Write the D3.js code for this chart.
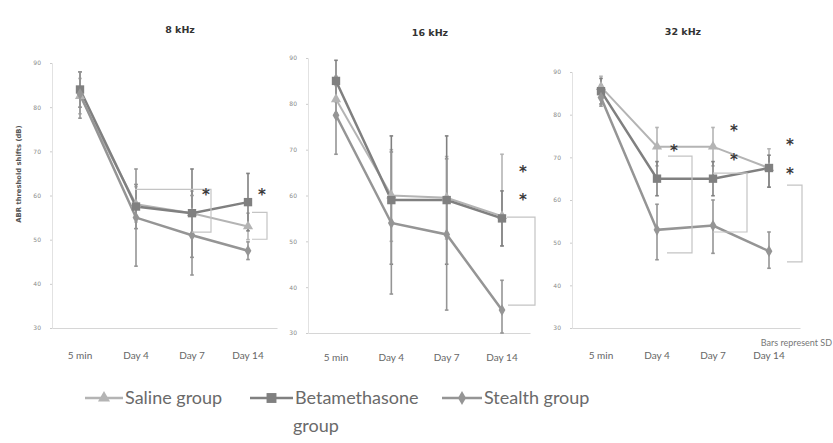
<!DOCTYPE html>
<html><head><meta charset="utf-8">
<script src="https://cdn.jsdelivr.net/npm/d3@7/dist/d3.min.js"></script>
<style>body{margin:0;background:#fff}svg{display:block}</style>
</head><body>
<svg id="c" width="833" height="443"></svg>
<script>
// ---------- DATA ----------
const categories = ["5 min", "Day 4", "Day 7", "Day 14"];
const panelTitles = ["8 kHz", "16 kHz", "32 kHz"];
const yTicks = [30, 40, 50, 60, 70, 80, 90];
const seriesNames = ["Saline group", "Betamethasone group", "Stealth group"];

// 8 kHz
const saline8 = [82.5, 58, 56, 53];
const saline8Plus = [4, 4, 5, 3];
const saline8Minus = [4, 4, 5, 3];
const beta8 = [84, 57.5, 56, 58.5];
const beta8Plus = [4, 5, 10, 6.5];
const beta8Minus = [4, 5, 10, 6.5];
const stealth8 = [83, 55, 51, 47.5];
const stealth8Plus = [5, 11, 9, 2];
const stealth8Minus = [5.5, 11, 9, 2];

// 16 kHz
const saline16 = [81, 60, 59.5, 55.5];
const saline16Plus = [3, 10, 9, 13.5];
const saline16Minus = [3, 10, 9, 6.5];
const beta16 = [85, 59, 59, 55];
const beta16Plus = [4.5, 14, 14, 6];
const beta16Minus = [4.5, 14, 14, 6];
const stealth16 = [77.5, 54, 51.5, 35];
const stealth16Plus = [8.5, 15.5, 16.5, 6.5];
const stealth16Minus = [8.5, 15.5, 16.5, 5];

// 32 kHz
const saline32 = [86.5, 72.5, 72.5, 67.5];
const saline32Plus = [2.5, 4.5, 4.5, 4.5];
const saline32Minus = [2.5, 4.5, 4.5, 4.5];
const beta32 = [85.5, 65, 65, 67.5];
const beta32Plus = [3, 4, 4, 3];
const beta32Minus = [3, 4, 4, 4.5];
const stealth32 = [84, 53, 54, 48];
const stealth32Plus = [3, 6, 6, 4.5];
const stealth32Minus = [2, 7, 6.5, 4];

// significance brackets: [panel, category, top dB, bottom dB]
const bracketPanel = [0, 0, 1, 2, 2, 2];
const bracketCat = ["Day 7", "Day 14", "Day 14", "Day 4", "Day 7", "Day 14"];
const bracketTop = [61.4, 56.2, 55.3, 70.3, 66.3, 63.5];
const bracketBottom = [51.7, 50.1, 36.1, 47.6, 52.5, 45.5];

// asterisks: [panel, category, dB]
const starPanel = [0, 0, 1, 1, 2, 2, 2, 2, 2];
const starCat = ["Day 7", "Day 14", "Day 14", "Day 14", "Day 4", "Day 7", "Day 7", "Day 14", "Day 14"];
const starValue = [60.5, 60.5, 65.6, 59.5, 72, 76.6, 69.8, 73.3, 66.5];

// ---------- LAYOUT / STYLE ----------
const panels = [
  {x0: 52, x1: 277, p0: 80, p1: 248, y30: 328, y90: 63, titleX: 180, titleY: 33, labY: 359},
  {x0: 308, x1: 530, p0: 336, p1: 502, y30: 333, y90: 58, titleX: 430, titleY: 36, labY: 361},
  {x0: 572, x1: 800, p0: 601, p1: 769, y30: 328, y90: 72, titleX: 683, titleY: 35, labY: 359}
];
// bracket horizontal geometry (px offsets from category point)
const bracketTopStart = [-57, 4, 5, 11, 0, 18];
const bracketBotStart = [0, 4, 6, 10, 0, 18];
const bracketVert = [19, 19, 33, 35, 34, 33];
const starDx = [14, 14, 21, 21, 17, 21, 21, 21, 21];

const colors = ["#b4b4b4", "#808080", "#959595"];
const symbols = [d3.symbolTriangle, d3.symbolSquare, d3.symbolDiamond];
const symSizes = [45, 70, 40];

const panelData = [
  [[saline8, saline8Plus, saline8Minus], [beta8, beta8Plus, beta8Minus], [stealth8, stealth8Plus, stealth8Minus]],
  [[saline16, saline16Plus, saline16Minus], [beta16, beta16Plus, beta16Minus], [stealth16, stealth16Plus, stealth16Minus]],
  [[saline32, saline32Plus, saline32Minus], [beta32, beta32Plus, beta32Minus], [stealth32, stealth32Plus, stealth32Minus]]
];

const svg = d3.select("#c");
svg.append("rect").attr("width", 833).attr("height", 443).attr("fill", "#fff");

const scales = panels.map(p => ({
  x: d3.scalePoint().domain(categories).range([p.p0, p.p1]),
  y: d3.scaleLinear().domain([30, 90]).range([p.y30, p.y90])
}));

panels.forEach((p, pi) => {
  const {x, y} = scales[pi];
  const g = svg.append("g");

  // title
  g.append("text").attr("x", p.titleX).attr("y", p.titleY).attr("text-anchor", "middle")
    .attr("font-family", "DejaVu Sans").attr("font-weight", "bold").attr("font-size", 9.5)
    .attr("fill", "#333").text(panelTitles[pi]);

  // y axis
  const yAxis = d3.axisLeft(y).tickValues(yTicks).tickSize(2).tickPadding(9);
  const ya = g.append("g").attr("transform", `translate(${p.x0},0)`).call(yAxis);
  ya.select(".domain").attr("stroke", "#e2e2e2");
  ya.selectAll(".tick line").attr("stroke", "#ccc");
  ya.selectAll("text").attr("font-family", "DejaVu Sans").attr("font-size", 6).attr("fill", "#8a8a8a");

  // x axis baseline
  const xa = g.append("g").attr("transform", `translate(0,${p.y30})`)
    .call(d3.axisBottom(d3.scaleLinear().range([p.x0, p.x1])).ticks(0).tickSizeOuter(0));
  xa.select(".domain").attr("stroke", "#d6d6d6").attr("stroke-width", 1.2);

  // x labels
  g.selectAll(".xl").data(categories).join("text")
    .attr("x", d => x(d)).attr("y", p.labY).attr("text-anchor", "middle")
    .attr("font-family", "Lato").attr("font-size", 10).attr("fill", "#666").text(d => d);

  // series
  panelData[pi].forEach((s, si) => {
    const [vals, plus, minus] = s;
    // error bars
    categories.forEach((c, i) => {
      g.append("line").attr("x1", x(c)).attr("x2", x(c))
        .attr("y1", y(vals[i] + plus[i])).attr("y2", y(vals[i] - minus[i]))
        .attr("stroke", colors[si]).attr("stroke-width", 1.6);
      [vals[i] + plus[i], vals[i] - minus[i]].forEach(v => {
        g.append("line").attr("x1", x(c) - 1.8).attr("x2", x(c) + 1.8)
          .attr("y1", y(v)).attr("y2", y(v)).attr("stroke", colors[si]).attr("stroke-width", 1.6);
      });
    });
  });
  panelData[pi].forEach((s, si) => {
    const vals = s[0];
    g.append("path").datum(vals)
      .attr("d", d3.line().x((d, i) => x(categories[i])).y(d => y(d)))
      .attr("fill", "none").attr("stroke", colors[si]).attr("stroke-width", si === 0 ? 2 : 2.5);
  });
  panelData[pi].forEach((s, si) => {
    const vals = s[0];
    g.selectAll(".m" + si).data(vals).join("path")
      .attr("transform", (d, i) => `translate(${x(categories[i])},${y(d)})`)
      .attr("d", d3.symbol().type(symbols[si]).size(symSizes[si]))
      .attr("fill", colors[si]);
  });
});

// brackets
bracketPanel.forEach((pi, k) => {
  const {x, y} = scales[pi];
  const cx = x(bracketCat[k]);
  const vx = cx + bracketVert[k];
  const path = d3.path();
  path.moveTo(cx + bracketTopStart[k], y(bracketTop[k]));
  path.lineTo(vx, y(bracketTop[k]));
  path.lineTo(vx, y(bracketBottom[k]));
  path.lineTo(cx + bracketBotStart[k], y(bracketBottom[k]));
  svg.append("path").attr("d", path.toString()).attr("fill", "none")
    .attr("stroke", "#c4c4c4").attr("stroke-width", 1.2);
});

// asterisks
starPanel.forEach((pi, k) => {
  const {x, y} = scales[pi];
  svg.append("text").attr("x", x(starCat[k]) + starDx[k]).attr("y", y(starValue[k]) + 7)
    .attr("text-anchor", "middle").attr("font-family", "DejaVu Sans").attr("font-weight", "bold")
    .attr("font-size", 15).attr("fill", "#3a3a3a").text("*");
});

// y axis title
svg.append("text").attr("transform", "translate(21,174) rotate(-90)").attr("text-anchor", "middle")
  .attr("font-family", "DejaVu Sans").attr("font-weight", "bold").attr("font-size", 6.8)
  .attr("fill", "#555").text("ABR threshold shifts (dB)");

// Bars represent SD
svg.append("text").attr("x", 832).attr("y", 346).attr("text-anchor", "end")
  .attr("font-family", "Lato").attr("font-size", 9).attr("fill", "#777").text("Bars represent SD");

// legend
const legendLineX = [85, 250, 442];
const legendLineW = [38, 43, 40];
const legendY = 398;
seriesNames.forEach((name, si) => {
  const lx = legendLineX[si];
  svg.append("line").attr("x1", lx).attr("x2", lx + legendLineW[si]).attr("y1", legendY).attr("y2", legendY)
    .attr("stroke", colors[si]).attr("stroke-width", 2.5);
  svg.append("path").attr("transform", `translate(${lx + legendLineW[si] / 2},${legendY})`)
    .attr("d", d3.symbol().type(symbols[si]).size(symSizes[si] * 1.4)).attr("fill", colors[si]);
  const t = svg.append("text").attr("x", lx + legendLineW[si] + 2).attr("y", legendY + 6)
    .attr("font-family", "Lato").attr("font-size", 18).attr("fill", "#6a6a6a");
  if (si === 1) {
    t.text("Betamethasone");
    svg.append("text").attr("x", lx + legendLineW[si]).attr("y", legendY + 34)
      .attr("font-family", "Lato").attr("font-size", 18).attr("fill", "#6a6a6a").text("group");
  } else {
    t.text(name);
  }
});
</script>
</body></html>
